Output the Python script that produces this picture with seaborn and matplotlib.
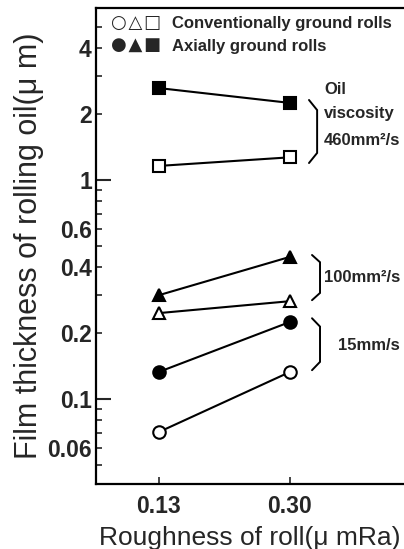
import matplotlib
matplotlib.use("Agg")
import matplotlib.pyplot as plt
import seaborn as sns
import pandas as pd

# ---- data ----
roughness = ["0.13", "0.30"]
conv_460 = [1.16, 1.27]
axial_460 = [2.63, 2.25]
conv_100 = [0.247, 0.28]
axial_100 = [0.298, 0.446]
conv_15 = [0.0707, 0.133]
axial_15 = [0.133, 0.225]

y_major = [0.1, 1]
y_major_labels = ["0.1", "1"]
y_minor = [0.05, 0.06, 0.07, 0.08, 0.09, 0.2, 0.3, 0.4, 0.5, 0.6, 0.7, 0.8, 0.9, 2, 3, 4, 5]
y_minor_labels = ["", "0.06", "", "", "", "0.2", "", "0.4", "", "0.6", "", "", "", "2", "", "4", ""]

series = [
    ("conv_460", conv_460, "s", "white"),
    ("axial_460", axial_460, "s", "black"),
    ("conv_100", conv_100, "^", "white"),
    ("axial_100", axial_100, "^", "black"),
    ("conv_15", conv_15, "o", "white"),
    ("axial_15", axial_15, "o", "black"),
]

sns.set_style("ticks")
plt.rcParams["font.family"] = ["Liberation Sans", "DejaVu Sans"]

fig = plt.figure(figsize=(4.04, 5.49), dpi=100)
ax = fig.add_axes([96 / 404, 65 / 549, 1 - 96 / 404, 476 / 549])

for name, vals, mk, fc in series:
    df = pd.DataFrame({"x": roughness, "y": vals})
    sns.lineplot(data=df, x="x", y="y", ax=ax, color="black", linewidth=1.5,
                 marker=mk, markersize=9, markerfacecolor=fc,
                 markeredgecolor="black", markeredgewidth=1.5)

ax.set_yscale("log")
ax.set_ylim(0.041, 6.1)
ax.set_xlim(-0.477, 1.87)

ax.set_yticks(y_major, y_major_labels)
ax.set_yticks(y_minor, y_minor_labels, minor=True)
ax.tick_params(axis="y", which="major", direction="in", length=11, width=1.5,
               labelsize=16.5, pad=3)
ax.tick_params(axis="y", which="minor", direction="in", length=4.5, width=1.2,
               labelsize=16.5, pad=3)
ax.tick_params(axis="x", which="major", direction="in", length=5, width=1.2,
               labelsize=16.5, pad=8)
for lab in ax.get_yticklabels(which="both") + ax.get_xticklabels():
    lab.set_fontweight("bold")

ax.set_xlabel("Roughness of roll(μ mRa)", fontsize=19, labelpad=6)
ax.set_ylabel("Film thickness of rolling oil(μ m)", fontsize=22, labelpad=2)

for s in ["left", "bottom", "top"]:
    ax.spines[s].set_linewidth(1.6)
    ax.spines[s].set_color("black")
ax.spines["right"].set_visible(False)

# legend as text
ax.text(0.05, 0.968, "○\u200a△\u200a□", transform=ax.transAxes, fontsize=13,
        family="DejaVu Sans", va="center", ha="left")
ax.text(0.05, 0.92, "●\u200a▲\u200a■", transform=ax.transAxes, fontsize=13,
        family="DejaVu Sans", va="center", ha="left")
ax.text(0.247, 0.968, "Conventionally ground rolls", transform=ax.transAxes,
        fontsize=12, fontweight="bold", va="center", ha="left")
ax.text(0.247, 0.92, "Axially ground rolls", transform=ax.transAxes,
        fontsize=12, fontweight="bold", va="center", ha="left")


def bracket(x0, x1, ytop, ybot):
    f = 0.16
    ya = ytop * (ybot / ytop) ** f
    yb = ytop * (ybot / ytop) ** (1 - f)
    ax.plot([x0, x1, x1, x0], [ytop, ya, yb, ybot], color="black", lw=1.4,
            solid_joinstyle="miter")


bracket(1.146, 1.208, 2.32, 1.196)
bracket(1.169, 1.23, 0.455, 0.283)
bracket(1.169, 1.23, 0.234, 0.1356)

tk = dict(fontsize=12, fontweight="bold", va="center", ha="left")
ax.text(1.26, 2.58, "Oil", **tk)
ax.text(1.26, 2.02, "viscosity", **tk)
ax.text(1.26, 1.52, "460mm²/s", **tk)
ax.text(1.262, 0.36, "100mm²/s", **tk)
ax.text(1.37, 0.1765, "15mm/s", **tk)

fig.savefig("out.png", dpi=100)
